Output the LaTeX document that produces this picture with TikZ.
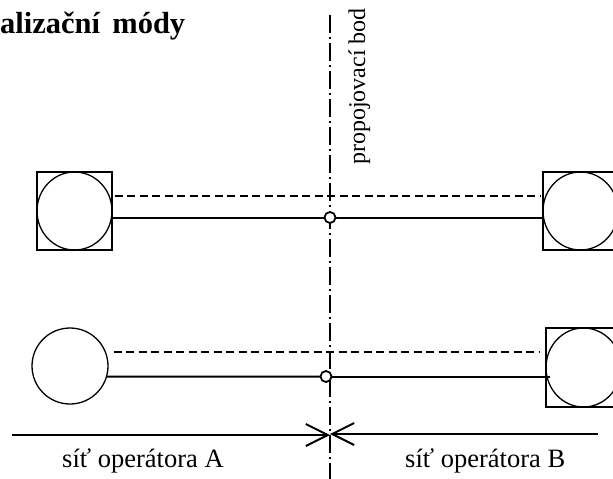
\documentclass[tikz,border=0pt]{standalone}
\usepackage{fontspec}
\setmainfont{Liberation Serif}
\usetikzlibrary{arrows.meta,shapes.geometric}
\begin{document}
\begin{tikzpicture}[x=1pt,y=-1pt,
  boxst/.style={draw,rectangle,line width=1.2pt,inner sep=0pt,minimum width=75pt,minimum height=78pt},
  circst/.style={draw,ellipse,line width=1.3pt,inner sep=0pt,minimum width=75pt,minimum height=78pt},
  dotst/.style={draw,circle,fill=white,line width=1.8pt,inner sep=0pt,minimum size=11pt},
  solidln/.style={line width=2pt},
  dashln/.style={line width=2pt,dash pattern=on 8pt off 4.5pt},
  axisln/.style={line width=1.5pt,dash pattern=on 18pt off 4pt on 2pt off 4pt},
  arrowln/.style={line width=2pt,-{Straight Barb[length=22pt,width=22pt,line width=2pt]}},
  lbl/.style={inner sep=0pt,font=\fontsize{26.5}{31}\selectfont},
  rotlbl/.style={inner sep=0pt,font=\fontsize{24}{28}\selectfont},
  titlest/.style={inner sep=0pt,font=\fontsize{30.5}{36}\selectfont\bfseries}
]
\useasboundingbox (0,0) rectangle (613,479);
\clip (0,0) rectangle (613,479);

% title and labels
\node[titlest,anchor=base west] (title) at (0,33) {alizační\hspace{0.4em}módy};
\node[rotlbl,rotate=90,anchor=base west] (pb) at (365,165) {propojovací bod};
\node[lbl,anchor=base west] (labA) at (62,467) {síť operátora A};
\node[lbl,anchor=base west] (labB) at (405,467) {síť operátora B};

% terminals
\node[boxst] (ulbox) at (74.5,211) {};
\node[circst] (ul) at (74.5,211) {};
\node[boxst] (urbox) at (580.5,211) {};
\node[circst] (ur) at (580.5,211) {};
\node[circst,minimum width=76pt,minimum height=76pt] (ll) at (70,366) {};
\node[boxst,minimum height=79pt] (lrbox) at (583.5,367.5) {};
\node[circst,minimum height=79pt] (lr) at (583.5,367.5) {};

% interconnection axis
\coordinate (vtop) at (330,15);
\coordinate (vbot) at (330,479);
\draw[axisln] (vtop) -- (vbot);

% points
\coordinate (p1) at (330,217.5);
\coordinate (p2) at (326,376.5);

% upper pair of lines
\draw[dashln] ([xshift=2pt,yshift=15pt]ulbox.east) -- ([xshift=-1pt,yshift=15pt]urbox.west);
\draw[solidln] ([yshift=-6.5pt]ulbox.east) -- (p1);
\draw[solidln] (p1) -- ([yshift=-6.5pt]urbox.west);
\node[dotst] (d1) at (p1) {};

% lower pair of lines
\draw[dashln] ([xshift=5pt,yshift=14.3pt]ll.east) -- ([xshift=-6pt,yshift=15.8pt]lrbox.west);
\draw[solidln] (ll.-16) -- (p2);
\draw[solidln] (p2) -- ([xshift=4.5pt,yshift=-9pt]lrbox.west);
\node[dotst] (d2) at (p2) {};

% network extents
\coordinate (aL) at (12,435);
\coordinate (aR) at (598,434);
\coordinate (tipL) at (330,435);
\coordinate (tipR) at (330,434);
\draw[arrowln] (aL) -- (tipL);
\draw[arrowln] (aR) -- (tipR);
\end{tikzpicture}
\end{document}
